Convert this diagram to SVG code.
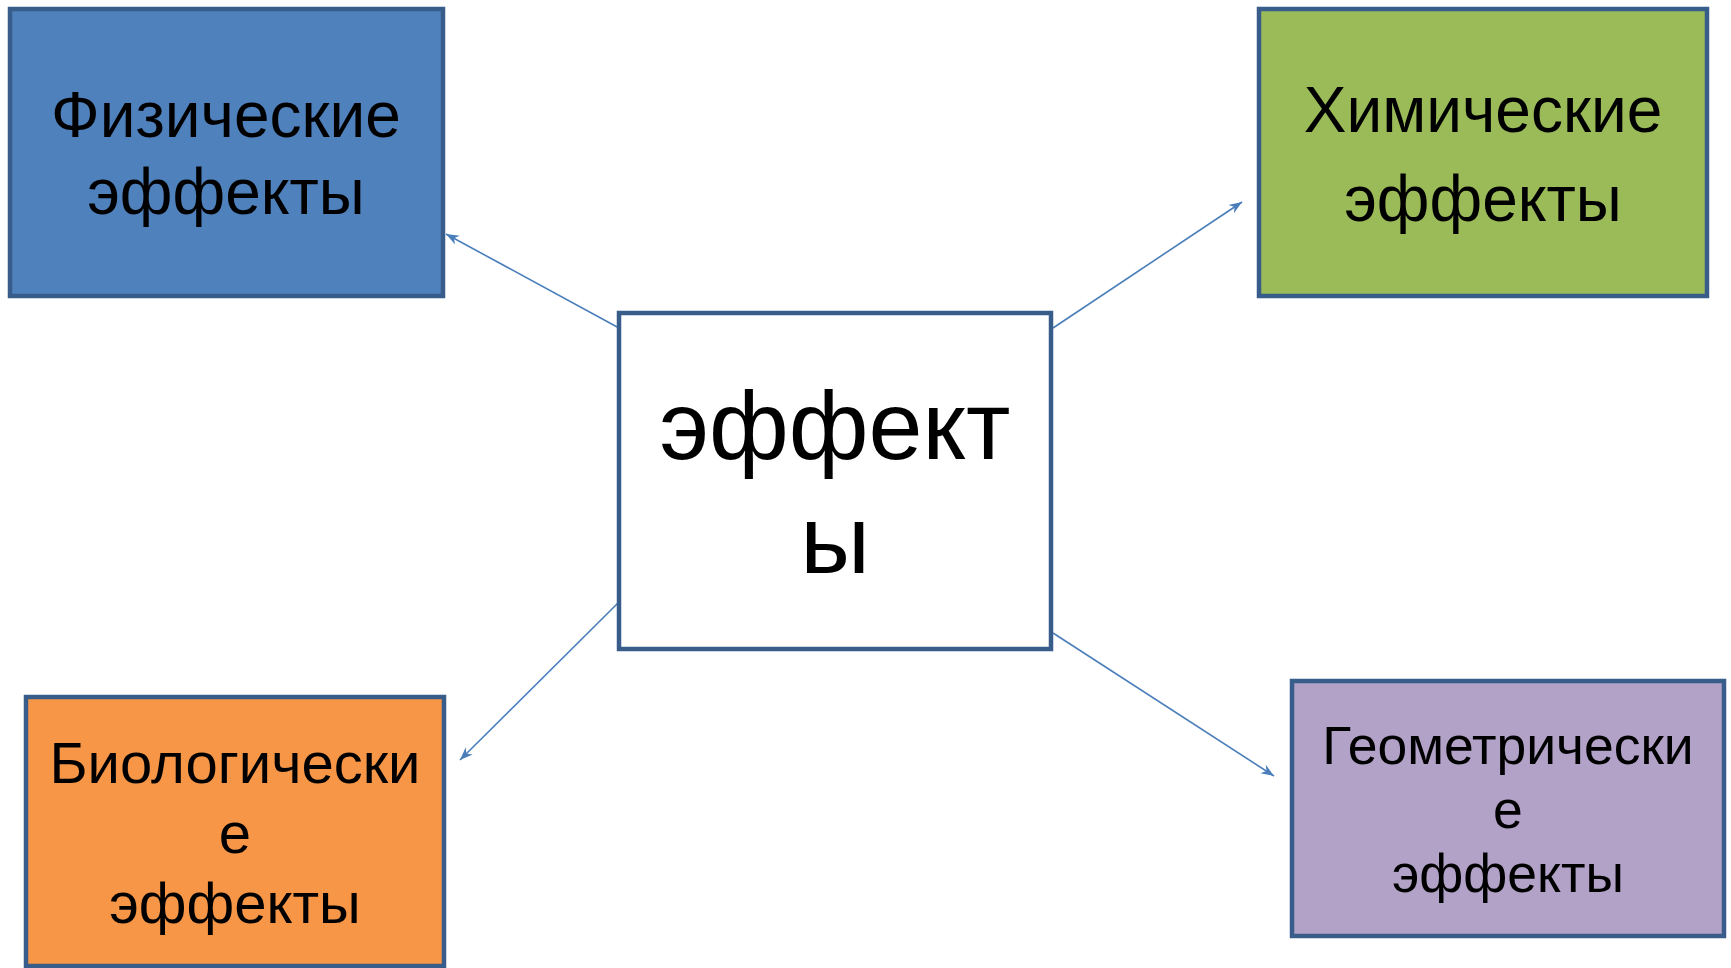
<svg xmlns="http://www.w3.org/2000/svg" width="1731" height="968" viewBox="0 0 1731 968">
<style>
.box{stroke:#385D8A;stroke-width:4.5;}
.lbl{font-family:"Liberation Sans",Arial,sans-serif;fill:#000;text-anchor:middle;}
.conn{stroke:#4A7EBB;stroke-width:1.6;fill:none;marker-end:url(#arr);}
</style>
<defs>
<marker id="arr" markerUnits="userSpaceOnUse" markerWidth="14" markerHeight="12" viewBox="0 0 14 12" refX="13" refY="6" orient="auto">
<path d="M0,1 L13,6 L0,11 L4,6 z" fill="#4A7EBB"/>
</marker>
</defs>
<rect width="1731" height="968" fill="#fff"/>
<g id="connectors">
<line class="conn" x1="619" y1="328" x2="446" y2="234"/>
<line class="conn" x1="1053" y1="328" x2="1242" y2="202"/>
<line class="conn" x1="619" y1="602" x2="460" y2="760"/>
<line class="conn" x1="1053" y1="633" x2="1274" y2="776"/>
</g>
<g id="node-physical">
<rect class="box" x="10" y="9" width="433" height="287" fill="#4F81BD"/>
<text class="lbl" font-size="64"><tspan x="226" y="137">Физические</tspan><tspan x="226" y="214">эффекты</tspan></text>
</g>
<g id="node-chemical">
<rect class="box" x="1259" y="9" width="448" height="287" fill="#9BBB59"/>
<text class="lbl" font-size="64"><tspan x="1483" y="132">Химические</tspan><tspan x="1483" y="221">эффекты</tspan></text>
</g>
<g id="node-center">
<rect class="box" x="619" y="313" width="432" height="336" fill="#fff"/>
<text class="lbl" font-size="97"><tspan x="835" y="459">эффект</tspan><tspan x="835" y="573">ы</tspan></text>
</g>
<g id="node-biological">
<rect class="box" x="26" y="697" width="418" height="269" fill="#F79646"/>
<text class="lbl" font-size="58"><tspan x="235" y="783">Биологически</tspan><tspan x="235" y="853">е</tspan><tspan x="235" y="923">эффекты</tspan></text>
</g>
<g id="node-geometric">
<rect class="box" x="1292" y="681" width="432" height="255" fill="#B2A2C7"/>
<text class="lbl" font-size="53.5"><tspan x="1508" y="764">Геометрически</tspan><tspan x="1508" y="828">е</tspan><tspan x="1508" y="892">эффекты</tspan></text>
</g>
</svg>
